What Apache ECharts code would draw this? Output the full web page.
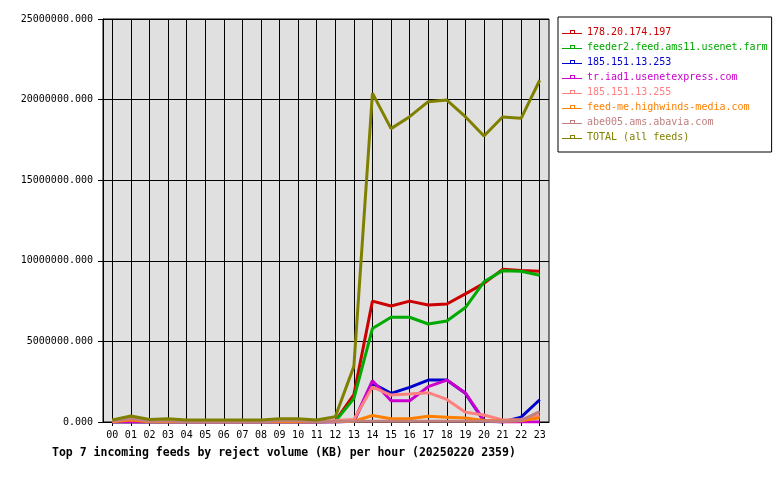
<!DOCTYPE html>
<html>
<head>
<meta charset="utf-8">
<script src="https://cdn.jsdelivr.net/npm/echarts@6/dist/echarts.min.js"></script>
<style>
  html, body { margin: 0; padding: 0; background: #fff; }
  #chart { width: 780px; height: 480px; }
</style>
</head>
<body>
<div id="chart"></div>
<script>
// hours of the day
const hours = ['00', '01', '02', '03', '04', '05', '06', '07', '08', '09', '10', '11',
  '12', '13', '14', '15', '16', '17', '18', '19', '20', '21', '22', '23']

// reject volume (KB) per feed
const feed178 = [0, 0, 0, 0, 0, 0, 0, 0, 0, 0, 0, 0,
  50000, 1700000, 7500000, 7200000, 7500000, 7260000, 7320000, 7950000, 8600000, 9470000, 9400000, 9350000]
const feeder2 = [0, 0, 0, 0, 0, 0, 0, 0, 0, 0, 0, 0,
  50000, 1450000, 5800000, 6500000, 6500000, 6080000, 6270000, 7100000, 8700000, 9390000, 9350000, 9100000]
const feed253 = [0, 0, 0, 0, 0, 0, 0, 0, 0, 0, 0, 0,
  0, 50000, 2400000, 1780000, 2150000, 2600000, 2600000, 1780000, 50000, 0, 300000, 1380000]
const trIad1 = [0, 0, 0, 0, 0, 0, 0, 0, 0, 0, 0, 0,
  0, 50000, 2560000, 1320000, 1320000, 2190000, 2600000, 1800000, 100000, 0, 0, 0]
const feed255 = [80000, 200000, 50000, 20000, 20000, 20000, 20000, 20000, 20000, 20000, 20000, 20000,
  100000, 150000, 2170000, 1670000, 1740000, 1820000, 1400000, 600000, 430000, 120000, 150000, 400000]
const highwinds = [20000, 120000, 20000, 20000, 20000, 20000, 20000, 20000, 20000, 20000, 20000, 20000,
  20000, 50000, 400000, 200000, 200000, 350000, 300000, 250000, 100000, 50000, 80000, 260000]
const abavia = [50000, 220000, 50000, 80000, 20000, 20000, 20000, 20000, 20000, 80000, 80000, 20000,
  50000, 50000, 50000, 50000, 50000, 50000, 50000, 50000, 50000, 50000, 100000, 640000]
const total = [120000, 370000, 150000, 200000, 120000, 120000, 120000, 120000, 120000, 200000, 200000, 120000,
  330000, 3450000, 20400000, 18200000, 18940000, 19870000, 19970000, 18940000, 17740000, 18920000, 18840000, 21200000]

const feedNames = ['178.20.174.197', 'feeder2.feed.ams11.usenet.farm', '185.151.13.253',
  'tr.iad1.usenetexpress.com', '185.151.13.255', 'feed-me.highwinds-media.com',
  'abe005.ams.abavia.com', 'TOTAL (all feeds)']
const feedData = [feed178, feeder2, feed253, trIad1, feed255, highwinds, abavia, total]
const feedColors = ['#cc0000', '#00aa00', '#0000cc', '#cc00cc', '#ff8080', '#ff8000', '#c08080', '#808000']

const FONT = 'DejaVu Sans Mono'

// legend icon: thin line with a small hollow square in the middle
const legendIcon = 'path://M0,5H20V6H0Z M8,2H13V6H8Z M9,3V5H12V3Z'

const chart = echarts.init(document.getElementById('chart'))

const series = feedNames.map((name, i) => ({
  name,
  type: 'line',
  data: feedData[i],
  showSymbol: false,
  symbol: 'none',
  color: feedColors[i],
  lineStyle: { width: 3, color: feedColors[i] }
}))

const option = {
  animation: false,
  textStyle: { fontFamily: FONT },
  title: {
    text: 'Top 7 incoming feeds by reject volume (KB) per hour (20250220 2359)',
    left: 47,
    top: 442,
    textStyle: { fontFamily: FONT, fontSize: 11.5, fontWeight: 'bold', color: '#000' }
  },
  legend: {
    orient: 'vertical',
    left: 558,
    top: 17,
    padding: [10, 4, 10, 4],
    itemWidth: 20,
    itemHeight: 8,
    itemGap: 5,
    icon: legendIcon,
    borderColor: '#000',
    borderWidth: 1,
    backgroundColor: '#fff',
    itemStyle: { borderWidth: 0 },
    data: feedNames.map((name, i) => ({
      name,
      textStyle: { color: feedColors[i], fontFamily: FONT, fontSize: 10 }
    }))
  },
  grid: {
    left: 103,
    right: 231,
    top: 19,
    bottom: 58,
    show: true,
    backgroundColor: '#e0e0e0',
    borderColor: '#000',
    borderWidth: 1
  },
  xAxis: {
    type: 'category',
    data: hours,
    boundaryGap: true,
    axisLine: { lineStyle: { color: '#000', width: 1 } },
    axisTick: { show: true, alignWithLabel: true, length: 4, lineStyle: { color: '#000' } },
    axisLabel: { color: '#000', fontFamily: FONT, fontSize: 10, margin: 8, interval: 0 },
    splitLine: { show: true, alignWithLabel: true, lineStyle: { color: '#000', width: 1 } }
  },
  yAxis: {
    type: 'value',
    min: 0,
    max: 25000000,
    interval: 5000000,
    axisLine: { show: true, lineStyle: { color: '#000', width: 1 } },
    axisTick: { show: true, length: 5, lineStyle: { color: '#000' } },
    axisLabel: {
      color: '#000',
      fontFamily: FONT,
      fontSize: 10,
      margin: 10,
      formatter: v => v.toFixed(3)
    },
    splitLine: { show: true, lineStyle: { color: '#000', width: 1 } }
  },
  series
}

chart.setOption(option)
</script>
</body>
</html>
